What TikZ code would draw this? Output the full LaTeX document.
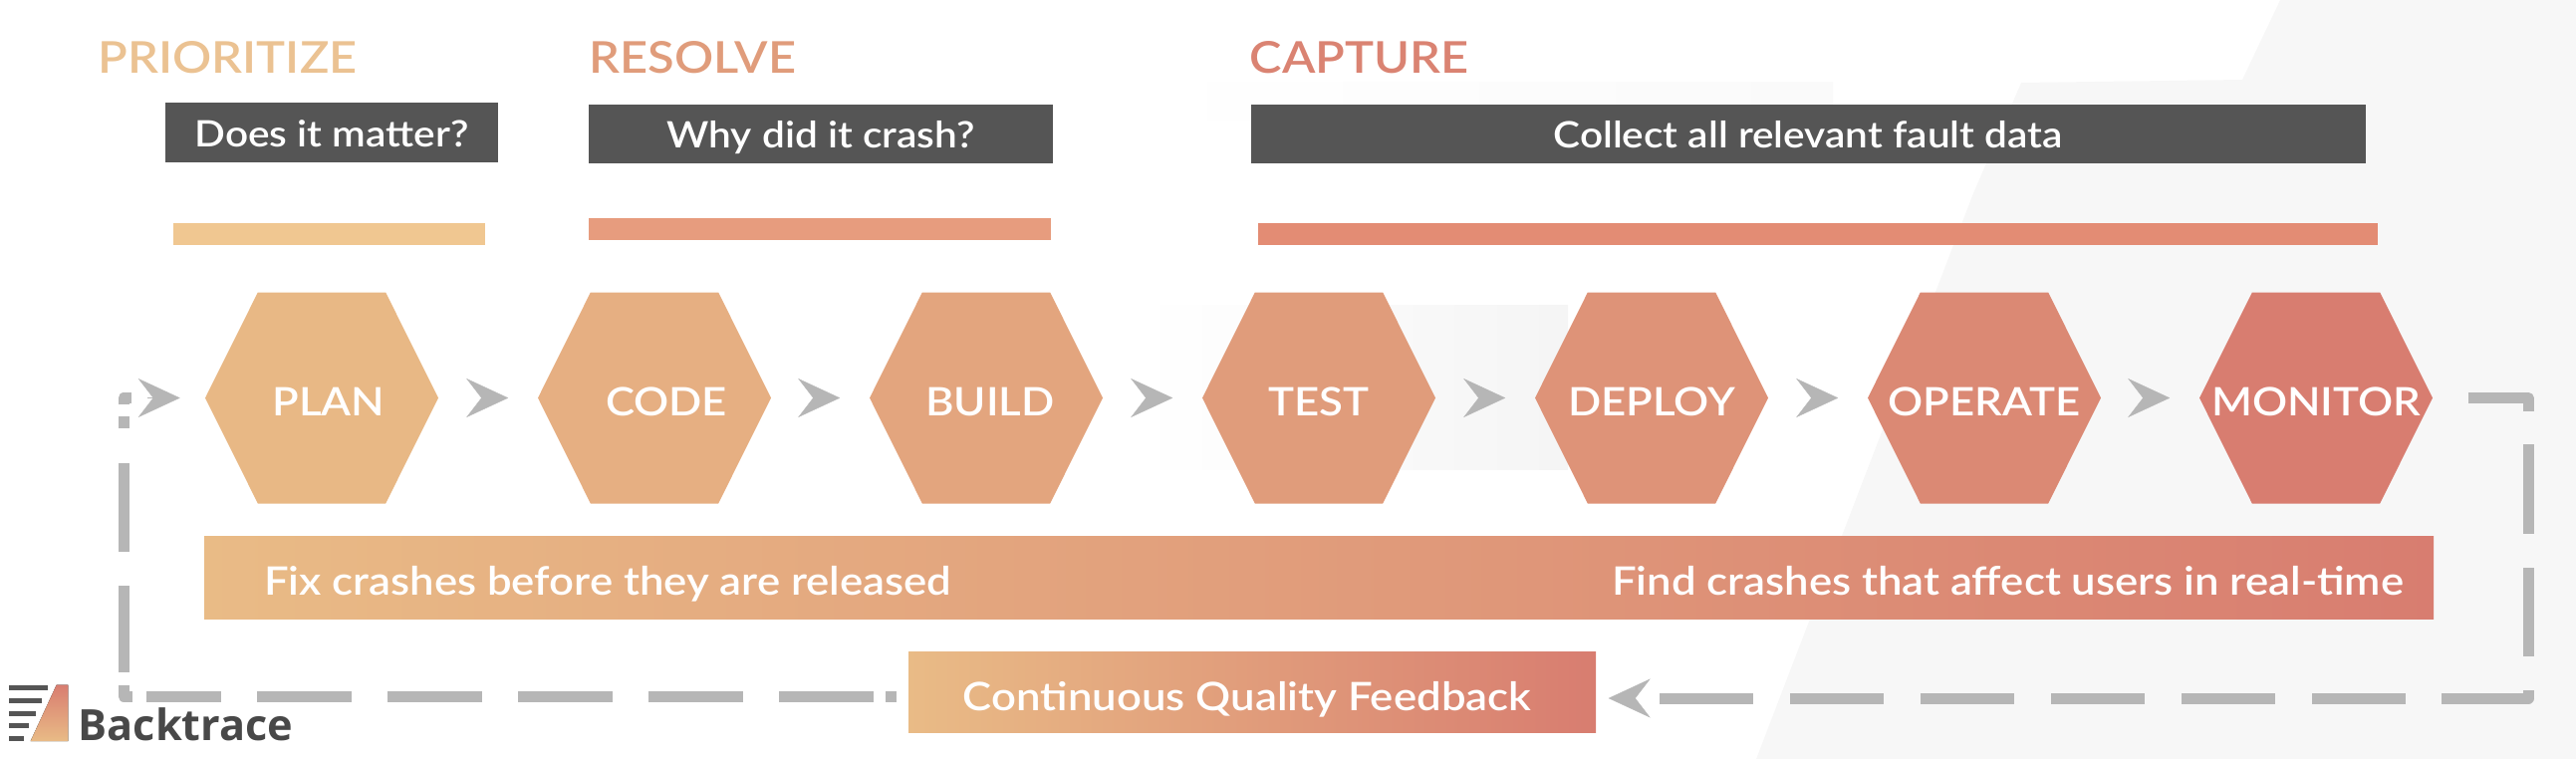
\documentclass[tikz,border=0pt]{standalone}
\usepackage{xcolor}
\usepackage{fontspec}
\setmainfont{Lato Semibold}[FakeStretch=1.11]
\newfontfamily\logofont{Open Sans}
\usepackage{tikz}
\usetikzlibrary{positioning, shapes, arrows.meta, calc}
\definecolor{dkbox}{HTML}{555555}
\definecolor{loopgray}{HTML}{B6B6B6}
\definecolor{warmA}{HTML}{E9BB86}
\definecolor{warmZ}{HTML}{D87D70}
\definecolor{barone}{HTML}{F0C791}
\definecolor{bartwo}{HTML}{E79C7E}
\definecolor{barthree}{HTML}{E38C74}
\newcommand{\hexname}[2][0cm]{\raisebox{-0.175cm}[0pt][0pt]{\makebox[0pt]{\hspace*{#1}#2}}}

\begin{document}
\begin{tikzpicture}
	\tikzstyle{hexc}=[signal, signal to=east and west, signal pointer angle=127, minimum width=2.34cm, minimum height=2.12cm, inner sep=0pt, text=white, font=\fontsize{11.2}{13}\selectfont]
	\tikzstyle{headc}=[inner sep=0pt, anchor=base west, font=\fontsize{12.5}{15}\selectfont]
	\tikzstyle{askc}=[rectangle, fill=dkbox, inner sep=0pt, text=white, text height=0.28cm, text depth=0pt, font=\fontsize{10.4}{13}\selectfont]
	\tikzstyle{barc}=[rectangle, inner sep=0pt, minimum height=0.22cm]
	\tikzstyle{bandc}=[rectangle, inner sep=0pt, left color=warmA, right color=warmZ]
	\tikzstyle{bandtxt}=[inner sep=0pt, text=white, text height=0.354cm, text depth=0pt, font=\fontsize{11.2}{13}\selectfont]
	\tikzstyle{chevc}=[draw=loopgray, fill=loopgray, line width=0.1pt, -{Stealth[length=0.42cm, width=0.39cm, inset=0.15cm]}]
	\tikzstyle{loopc}=[draw=loopgray, line width=0.11cm, line join=round]

	\useasboundingbox (0,0) rectangle (25.86,-7.62);

	% pale backdrop
	\fill[black!3] (22.89,0) -- (25.86,0) -- (25.86,-7.62) -- (17.63,-7.62) -- (19.81,-1.94) -- (20.29,-0.83) -- (22.51,-0.80) -- cycle;
	\fill[left color=white, right color=black!4] (11.43,-3.06) rectangle (15.74,-4.71);
	\fill[left color=white, right color=black!2] (11.43,-0.82) rectangle (18.40,-1.20);

	% headings
	\node (prioritize) at (0.98,-0.73) [headc, text=warmA!90!white]{PRIORITIZE};
	\node (resolve) at (5.91,-0.73) [headc, text=warmZ!50!warmA]{RESOLVE};
	\node (capture) at (12.54,-0.73) [headc, text=warmZ!90!warmA]{CAPTURE};

	\node (matter) at (3.33,-1.33) [askc, minimum width=3.34cm, minimum height=0.60cm]{Does it matter?};
	\node (why) at (8.24,-1.345) [askc, minimum width=4.66cm, minimum height=0.59cm]{Why did it crash?};
	\node (collect) at (18.15,-1.345) [askc, minimum width=11.19cm, minimum height=0.59cm]{Collect all relevant fault data};

	\node (barp) at (3.305,-2.35) [barc, minimum width=3.13cm, fill=barone]{};
	\node (barr) at (8.23,-2.30) [barc, minimum width=4.64cm, fill=bartwo]{};
	\node (barl) at (18.25,-2.35) [barc, minimum width=11.24cm, fill=barthree]{};

	% the seven steps
	\node (plan) at (3.23,-3.995) [hexc, fill=warmZ!5!warmA]{\hexname[0.14cm]{PLAN}};
	\node (code) at (6.57,-3.995) [hexc, fill=warmZ!20!warmA]{\hexname[0.24cm]{CODE}};
	\node (build) at (9.90,-3.995) [hexc, fill=warmZ!35!warmA]{\hexname[0.08cm]{BUILD}};
	\node (test) at (13.24,-3.995) [hexc, fill=warmZ!50!warmA]{\hexname{TEST}};
	\node (deploy) at (16.58,-3.995) [hexc, fill=warmZ!65!warmA]{\hexname{DEPLOY}};
	\node (operate) at (19.92,-3.995) [hexc, fill=warmZ!80!warmA]{\hexname{OPERATE}};
	\node (monitor) at (23.25,-3.995) [hexc, fill=warmZ]{\hexname{MONITOR}};

	\foreach \a/\b in {plan/code, code/build, build/test, test/deploy, deploy/operate, operate/monitor}
		\draw[chevc, shorten <=0.43cm, shorten >=0.29cm] (\a.east) -- (\b.west);

	% long band and feedback
	\node (band) at (13.24,-5.80) [bandc, minimum width=22.38cm, minimum height=0.83cm]{};
	\node (fix) [bandtxt, right=0.60cm of band.west]{Fix crashes before they are released};
	\node (find) [bandtxt, left=0.30cm of band.east]{Find crashes that affect users in real-time};

	\node (feedback) at (12.57,-6.95) [bandc, minimum width=6.90cm, minimum height=0.81cm]{};
	\node (fbtext) at (12.52,-6.96) [bandtxt]{Continuous Quality Feedback};

	% loop back
	\coordinate (loopne) at (25.38,-3.995);
	\coordinate (loopse) at (25.38,-7.01);
	\coordinate (fbright) at (16.55,-7.01);
	\coordinate (fbleft) at (9.00,-6.99);
	\coordinate (loopsw) at (1.24,-6.99);
	\coordinate (loopnw) at (1.24,-3.995);
	\draw[loopc, dash pattern=on 0.74cm off 0.33cm on 0.90cm off 0.34cm on 0.89cm off 0.34cm on 0.95cm off 0.36cm on 0.94cm off 0.37cm on 0.94cm off 0.37cm on 0.94cm off 0.37cm on 0.94cm off 0.37cm on 0.94cm off 0.37cm on 0.94cm off 1cm, shorten <=0.35cm] (monitor.east) -- (loopne) -- (loopse) -- (fbright);
	\draw[chevc, shorten <=0.26cm, shorten >=0.12cm] (fbright) -- (feedback.east |- fbright);
	\draw[loopc, dash pattern=on 0.11cm off 0.12cm on 0.95cm off 0.36cm on 0.95cm off 0.36cm on 0.95cm off 0.36cm on 0.95cm off 0.36cm on 0.95cm off 0.36cm on 0.75cm off 0.14cm on 0.20cm off 0.13cm on 0.87cm off 0.34cm on 0.89cm off 0.35cm on 0.12cm off 0.12cm on 0.15cm off 1cm] (fbleft) -- (loopsw) -- (loopnw) -- (plan.west);
	\draw[chevc, shorten <=0.43cm, shorten >=0.245cm] ($(plan.west)+(-1,0)$) -- (plan.west);

	% logo
	\foreach \yy/\xx in {6.908/4.8, 7.034/4.2, 7.162/3.6, 7.288/2.9, 7.415/2.4}
		\fill[dkbox] (0.09,-\yy-0.025) rectangle (\xx/10,-\yy+0.025);
	\fill[bottom color=warmA, top color=warmZ] (0.307,-7.44) -- (0.567,-6.877) -- (0.683,-6.877) -- (0.683,-7.44) -- cycle;
	\node (logotext) at (0.78,-7.43) [inner sep=0pt, anchor=base west, text=dkbox!85!black, font=\logofont\bfseries\fontsize{12.3}{14}\selectfont]{Backtrace};
\end{tikzpicture}
\end{document}
